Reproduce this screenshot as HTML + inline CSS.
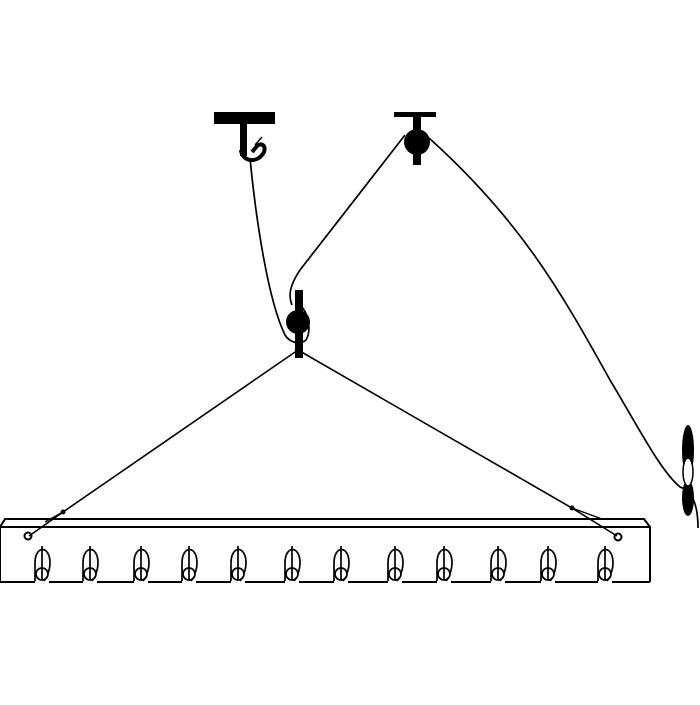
<!DOCTYPE html>
<html><head><style>html,body{margin:0;padding:0;background:#fff}</style></head>
<body>
<svg width="700" height="700" viewBox="0 0 700 700" xmlns="http://www.w3.org/2000/svg">
<defs>
<g id="hk" fill="none" stroke="#000" stroke-width="1.7">
<path d="M-7,581 L-7,563 C-7,545 8,545 8,563 C8,570 5,576 3,579"/>
<circle cx="0" cy="574" r="6" fill="#fff"/>
<line x1="0" y1="546" x2="0" y2="580"/>
<path d="M5,577 L2,581"/>
</g>
</defs>
<g fill="none" stroke="#000" stroke-width="2">
<!-- bar -->
<path d="M0,582 L0,527 L5,519 L644,519 L650,527 L650,582"/>
<line x1="0" y1="527" x2="650" y2="527"/>
<path d="M0,582 L35,582 M49,582 L83,582 M97,582 L134,582 M148,582 L182,582 M196,582 L231,582 M245,582 L285,582 M299,582 L334,582 M348,582 L388,582 M402,582 L437,582 M451,582 L491,582 M505,582 L541,582 M555,582 L598,582 M612,582 L650,582"/>
<!-- ropes -->
<path d="M298,350 L63,512 L29,536" stroke-width="1.6"/>
<path d="M63,512 L45,522" stroke-width="1.4"/>
<path d="M298,350 L572,508 L617,536" stroke-width="1.6"/>
<path d="M572,508 L602,519" stroke-width="1.4"/>
<path d="M250,158 C256,220 268,300 285,335 C290,343 300,345 306,340 C312,330 308,312 300,305" stroke-width="1.7"/>
<path d="M292,305 C288,295 290,285 300,270 L405,135" stroke-width="1.7"/>
<path d="M429,138 C520,220 560,290 610,380 C640,430 660,470 680,487 C690,490 698,500 698,528" stroke-width="1.7"/>
<circle cx="28" cy="536" r="3.5"/>
<circle cx="618" cy="537" r="3.5"/>
</g>
<circle cx="63" cy="512" r="2.5" fill="#000"/>
<circle cx="572" cy="508" r="2.5" fill="#000"/>
<use href="#hk" x="42"/><use href="#hk" x="90"/><use href="#hk" x="141"/><use href="#hk" x="189"/>
<use href="#hk" x="238"/><use href="#hk" x="292"/><use href="#hk" x="341"/><use href="#hk" x="395"/>
<use href="#hk" x="444"/><use href="#hk" x="498"/><use href="#hk" x="548"/><use href="#hk" x="605"/>
<!-- left T -->
<rect x="214" y="112" width="61" height="12" fill="#000"/>
<rect x="240" y="124" width="7" height="32" fill="#000"/>
<path d="M241,150 C242,162 258,164 264,152 C266,146 262,142 257,146 L252,152" fill="none" stroke="#000" stroke-width="4"/>
<path d="M255,145 L262,137" stroke="#000" stroke-width="1.4"/>
<!-- right T -->
<rect x="394" y="112" width="42" height="5" fill="#000"/>
<circle cx="417" cy="142" r="13" fill="#000"/>
<rect x="413" y="117" width="8" height="48" fill="#000"/>
<!-- center pulley -->
<circle cx="298" cy="322" r="12" fill="#000"/>
<rect x="295" y="290" width="8" height="68" fill="#000"/>
<!-- cleat -->
<ellipse cx="688" cy="450" rx="6" ry="25" fill="#000"/>
<ellipse cx="688" cy="498" rx="6" ry="18" fill="#000"/>
<ellipse cx="688" cy="472" rx="5" ry="14" fill="#fff" stroke="#000" stroke-width="1.5"/>
</svg>
</body></html>
